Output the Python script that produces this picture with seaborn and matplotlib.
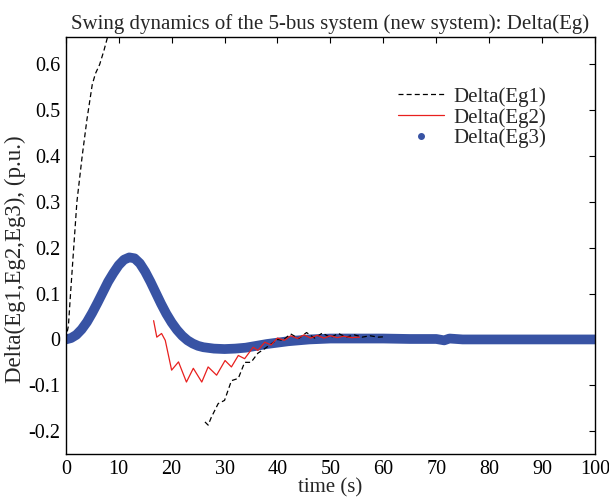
import numpy as np
import pandas as pd
import matplotlib
matplotlib.use("Agg")
import matplotlib.pyplot as plt
import seaborn as sns
from matplotlib.lines import Line2D
from matplotlib.ticker import FuncFormatter

# ---- data ----
eg1_t_a = [0, 0.5, 0.9, 1.5, 2.1, 2.6, 3.1, 4.0, 5.0, 5.6, 6.4, 7.2, 7.9, 8.6]
eg1_v_a = [0, 0.03, 0.10, 0.20, 0.30, 0.35, 0.40, 0.48, 0.556, 0.58, 0.60, 0.63, 0.66, 0.72]

eg1_t_b = [26.3, 26.9, 27.5, 28.8, 30.0, 31.3, 32.6, 33.8, 35.0, 36.3, 37.6, 38.8,
           40.0, 41.0, 42.5, 44.0, 45.5, 47.0, 48.5, 50.0, 51.5, 53.0, 54.5, 56.0,
           57.5, 59.0, 60.5]
eg1_v_b = [-0.18, -0.187, -0.17, -0.14, -0.133, -0.09, -0.085, -0.05, -0.05, -0.03,
           -0.02, -0.01, 0.0, -0.002, 0.012, 0.002, 0.015, 0.003, 0.014, 0.004,
           0.013, 0.005, 0.010, 0.005, 0.008, 0.005, 0.006]

eg2_t = [16.6, 17.2, 18.1, 18.8, 20.0, 21.3, 22.8, 24.1, 25.7, 26.9, 28.5, 30.1,
         31.3, 32.6, 33.8, 35.4, 36.3, 37.6, 38.8, 40.0, 41.3, 42.5, 43.8, 45.0,
         46.3, 47.5, 48.8, 50.0, 51.3, 52.5, 54.0, 55.5]
eg2_v = [0.041, 0.005, 0.013, -0.002, -0.067, -0.049, -0.093, -0.063, -0.093, -0.06,
         -0.078, -0.046, -0.06, -0.035, -0.042, -0.017, -0.024, -0.006, -0.012, 0.003,
         -0.002, 0.008, 0.002, 0.010, 0.003, 0.009, 0.003, 0.008, 0.004, 0.007,
         0.004, 0.005]

eg3_t = [0, 1, 2, 3, 4, 5, 6, 7, 8, 9, 10, 11, 12, 13, 14, 15, 16, 17, 18, 19, 20,
         21, 22, 23, 24, 25, 26, 28, 30, 32, 34, 36, 38, 40, 42, 44, 46, 48, 50, 55,
         60, 65, 70, 71.5, 72.5, 75, 80, 90, 100]
eg3_v = [0, 0.003, 0.01, 0.022, 0.038, 0.058, 0.08, 0.103, 0.126, 0.145, 0.162,
         0.174, 0.179, 0.177, 0.166, 0.148, 0.126, 0.102, 0.078, 0.056, 0.037, 0.021,
         0.008, -0.002, -0.009, -0.014, -0.017, -0.02, -0.021, -0.02, -0.018, -0.014,
         -0.01, -0.007, -0.004, -0.002, 0.0, 0.001, 0.002, 0.002, 0.002, 0.001, 0.001,
         -0.002, 0.002, 0.0, 0.0, 0.0, 0.0]

labels = ["Delta(Eg1)", "Delta(Eg2)", "Delta(Eg3)"]
title = "Swing dynamics of the 5-bus system (new system): Delta(Eg)"
xlabel = "time (s)"
ylabel = "Delta(Eg1,Eg2,Eg3), (p.u.)"

sns.set_theme(style="white")
plt.rcParams["font.family"] = ["Liberation Serif", "DejaVu Serif"]
plt.rcParams["axes.unicode_minus"] = False

fig = plt.figure(figsize=(6.09, 5.0), dpi=100)
ax = fig.add_axes([0.108, 0.092, 0.869, 0.834])

blue = "#3853a4"
sns.lineplot(x=eg3_t, y=eg3_v, ax=ax, color=blue, linewidth=7, sort=False,
             solid_capstyle="round", solid_joinstyle="round")
sns.lineplot(x=eg1_t_a, y=eg1_v_a, ax=ax, color="black", linewidth=0.9,
             linestyle=(0, (4, 2.5)), sort=False)
sns.lineplot(x=eg1_t_b, y=eg1_v_b, ax=ax, color="black", linewidth=0.9,
             linestyle=(0, (4, 2.5)), sort=False)
sns.lineplot(x=eg2_t, y=eg2_v, ax=ax, color="#e8201e", linewidth=0.9, sort=False)

ax.set_xlim(0, 100)
ax.set_ylim(-0.25, 0.66)
ax.set_xticks(np.arange(0, 101, 10))
ax.set_yticks([-0.2, -0.1, 0, 0.1, 0.2, 0.3, 0.4, 0.5, 0.6])
ax.yaxis.set_major_formatter(FuncFormatter(lambda v, p: "%g" % round(v, 2)))
ax.tick_params(direction="in", length=4, width=0.8, top=True, right=True,
               labelsize=14.5, colors="black", pad=4)
for s in ax.spines.values():
    s.set_color("black")
    s.set_linewidth(1.0)

ax.set_title(title, fontsize=15, pad=6)
ax.set_xlabel(xlabel, fontsize=15, labelpad=0)
ax.set_ylabel(ylabel, fontsize=16.5)
ax.yaxis.set_label_coords(-0.076, 0.468)

handles = [
    Line2D([], [], color="black", linewidth=0.9, linestyle=(0, (4, 2.5))),
    Line2D([], [], color="#e8201e", linewidth=0.9),
    Line2D([], [], color=blue, marker="o", markersize=4, linestyle="none"),
]
ax.legend(handles, labels, loc="upper left", bbox_to_anchor=(0.612, 0.90),
          borderaxespad=0, frameon=False, fontsize=15, handlelength=2.2,
          labelspacing=0.05, handletextpad=0.45)

fig.savefig("out.png", dpi=100)
